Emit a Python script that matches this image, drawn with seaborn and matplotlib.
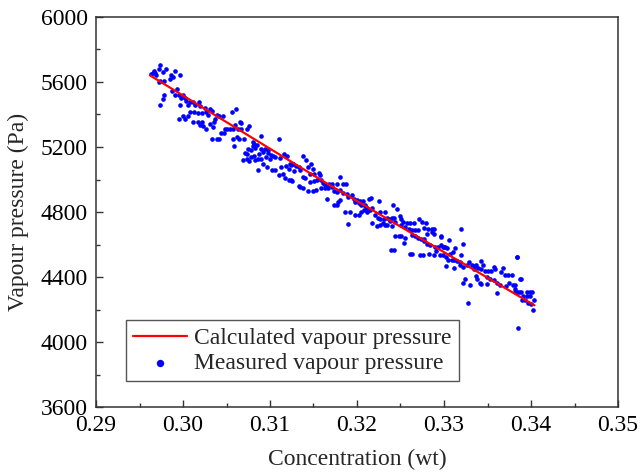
import matplotlib
matplotlib.use("Agg")
import matplotlib.pyplot as plt
from matplotlib.ticker import MultipleLocator
import seaborn as sns
import pandas as pd

# ---- data ----
calc_conc = [0.2962, 0.3161, 0.3404]
calc_pressure = [5641, 4990, 4226]

seg1 = [(0.2974, 5707), (0.2981, 5682), (0.2967, 5668), (0.2965, 5657), (0.2968, 5657),
        (0.2963, 5647), (0.2969, 5641), (0.2991, 5668), (0.2986, 5645), (0.2988, 5631),
        (0.2985, 5620), (0.2997, 5645), (0.2974, 5604), (0.2978, 5604), (0.2972, 5600),
        (0.2993, 5559), (0.2987, 5543), (0.2991, 5522), (0.2995, 5522), (0.2978, 5518),
        (0.2977, 5493), (0.2974, 5456), (0.3000, 5522), (0.3002, 5502), (0.3004, 5481),
        (0.3008, 5477), (0.3006, 5456), (0.2997, 5456), (0.3012, 5477), (0.3018, 5477),
        (0.3014, 5456), (0.3020, 5452), (0.3025, 5440), (0.3031, 5436), (0.3033, 5420),
        (0.3008, 5415), (0.3013, 5415), (0.3017, 5411), (0.3022, 5411), (0.3027, 5415),
        (0.3029, 5399), (0.3000, 5391), (0.3006, 5391), (0.2995, 5374), (0.3002, 5370),
        (0.3011, 5354), (0.3017, 5354), (0.3022, 5354), (0.3019, 5333), (0.3023, 5329),
        (0.3031, 5344), (0.3036, 5354), (0.3027, 5309), (0.3034, 5323), (0.3033, 5247),
        (0.3039, 5247), (0.2972, 5680), (0.2977, 5660), (0.2998, 5500)]

seg2 = [(0.3061, 5436), (0.3056, 5415), (0.3039, 5395), (0.3041, 5391), (0.3046, 5391),
        (0.3037, 5370), (0.3065, 5354), (0.3067, 5350), (0.3060, 5338), (0.3048, 5313),
        (0.3051, 5313), (0.3054, 5309), (0.3044, 5288), (0.3047, 5288), (0.3058, 5313),
        (0.3063, 5309), (0.3067, 5309), (0.3073, 5309), (0.3076, 5329), (0.3041, 5247),
        (0.3057, 5251), (0.3062, 5262), (0.3064, 5247), (0.3070, 5251), (0.3059, 5206),
        (0.3080, 5231), (0.3082, 5221), (0.3085, 5210), (0.3081, 5206), (0.3083, 5194),
        (0.3090, 5268), (0.3110, 5247), (0.3075, 5186), (0.3078, 5180), (0.3090, 5190),
        (0.3094, 5186), (0.3098, 5180), (0.3092, 5169), (0.3071, 5165), (0.3074, 5159),
        (0.3087, 5159), (0.3082, 5145), (0.3078, 5139), (0.3073, 5124), (0.3069, 5118),
        (0.3076, 5112), (0.3098, 5165), (0.3101, 5153), (0.3104, 5145), (0.3106, 5139),
        (0.3100, 5128), (0.3095, 5139), (0.3086, 5128), (0.3090, 5124), (0.3083, 5118),
        (0.3116, 5159), (0.3119, 5145), (0.3111, 5133), (0.3092, 5098), (0.3096, 5077),
        (0.3086, 5057), (0.3102, 5057), (0.3106, 5057), (0.3113, 5077), (0.3118, 5083),
        (0.3122, 5063), (0.3127, 5098), (0.3124, 5088), (0.3110, 5030), (0.3115, 5036),
        (0.3117, 5010), (0.3122, 4995), (0.3124, 4995)]

seg3 = [(0.3138, 5143), (0.3123, 5098), (0.3127, 5098), (0.3130, 5082), (0.3133, 5078),
        (0.3135, 5061), (0.3128, 5053), (0.3141, 5123), (0.3147, 5098), (0.3144, 5078),
        (0.3149, 5067), (0.3138, 5016), (0.3140, 5012), (0.3125, 4991), (0.3146, 5032),
        (0.3151, 5036), (0.3156, 5041), (0.3157, 5026), (0.3146, 4985), (0.3151, 4991),
        (0.3154, 4995), (0.3135, 4954), (0.3138, 4950), (0.3133, 4959), (0.3144, 4930),
        (0.3149, 4930), (0.3153, 4934), (0.3159, 4995), (0.3161, 4979), (0.3163, 4965),
        (0.3159, 4950), (0.3163, 4950), (0.3167, 4950), (0.3171, 4954), (0.3165, 4965),
        (0.3168, 4971), (0.3171, 4975), (0.3180, 5016), (0.3177, 4971), (0.3184, 4971),
        (0.3187, 4975), (0.3173, 4930), (0.3177, 4924), (0.3180, 4934), (0.3166, 4883),
        (0.3180, 4873), (0.3178, 4862), (0.3177, 4842), (0.3173, 4842), (0.3184, 4914),
        (0.3188, 4909), (0.3190, 4893), (0.3194, 4903), (0.3196, 4883), (0.3200, 4873),
        (0.3203, 4868), (0.3207, 4868), (0.3198, 4862), (0.3202, 4856), (0.3205, 4842),
        (0.3209, 4836), (0.3186, 4801), (0.3192, 4801), (0.3198, 4780), (0.3202, 4780),
        (0.3205, 4801), (0.3208, 4811), (0.3213, 4815), (0.3190, 4725), (0.3214, 4883)]

seg4 = [(0.3216, 4886), (0.3225, 4866), (0.3241, 4845), (0.3246, 4821), (0.3209, 4841),
        (0.3212, 4825), (0.3211, 4800), (0.3215, 4810), (0.3217, 4825), (0.3226, 4800),
        (0.3232, 4800), (0.3221, 4780), (0.3224, 4763), (0.3227, 4759), (0.3231, 4759),
        (0.3234, 4763), (0.3237, 4759), (0.3240, 4763), (0.3243, 4763), (0.3249, 4775),
        (0.3217, 4734), (0.3223, 4714), (0.3226, 4722), (0.3230, 4734), (0.3232, 4718),
        (0.3235, 4718), (0.3240, 4714), (0.3238, 4743), (0.3244, 4738), (0.3251, 4755),
        (0.3253, 4738), (0.3257, 4734), (0.3261, 4734), (0.3266, 4734), (0.3251, 4718),
        (0.3255, 4708), (0.3260, 4693), (0.3271, 4755), (0.3275, 4738), (0.3279, 4734),
        (0.3263, 4687), (0.3267, 4687), (0.3270, 4687), (0.3277, 4702), (0.3282, 4697),
        (0.3286, 4697), (0.3289, 4693), (0.3244, 4652), (0.3248, 4652), (0.3251, 4652),
        (0.3255, 4640), (0.3254, 4611), (0.3263, 4656), (0.3267, 4652), (0.3270, 4640),
        (0.3274, 4632), (0.3277, 4632), (0.3281, 4667), (0.3286, 4677), (0.3288, 4667),
        (0.3280, 4605), (0.3284, 4595), (0.3277, 4620), (0.3290, 4585), (0.3293, 4585),
        (0.3297, 4595), (0.3300, 4585), (0.3291, 4558), (0.3289, 4538), (0.3295, 4533),
        (0.3239, 4564), (0.3243, 4564), (0.3261, 4544), (0.3263, 4544), (0.3272, 4533),
        (0.3276, 4538), (0.3283, 4544), (0.3296, 4652)]

seg5 = [(0.3319, 4693), (0.3297, 4646), (0.3306, 4625), (0.3313, 4578), (0.3322, 4605),
        (0.3299, 4584), (0.3301, 4584), (0.3304, 4578), (0.3299, 4537), (0.3302, 4523),
        (0.3307, 4543), (0.3310, 4553), (0.3320, 4537), (0.3305, 4502), (0.3309, 4502),
        (0.3312, 4502), (0.3315, 4496), (0.3318, 4492), (0.3302, 4467), (0.3311, 4455),
        (0.3318, 4471), (0.3322, 4461), (0.3326, 4471), (0.3329, 4492), (0.3332, 4471),
        (0.3334, 4467), (0.3337, 4476), (0.3342, 4496), (0.3345, 4471), (0.3334, 4447),
        (0.3339, 4455), (0.3343, 4451), (0.3347, 4435), (0.3351, 4435), (0.3354, 4435),
        (0.3357, 4461), (0.3359, 4447), (0.3368, 4455), (0.3370, 4410), (0.3374, 4410),
        (0.3378, 4410), (0.3366, 4430), (0.3324, 4389), (0.3322, 4365), (0.3330, 4348),
        (0.3337, 4406), (0.3338, 4389), (0.3341, 4365), (0.3343, 4359), (0.3349, 4359),
        (0.3349, 4400), (0.3353, 4389), (0.3357, 4379), (0.3361, 4365), (0.3364, 4353),
        (0.3361, 4303), (0.3371, 4344), (0.3375, 4365), (0.3379, 4348), (0.3382, 4324),
        (0.3384, 4307), (0.3384, 4523), (0.3328, 4238)]

seg6 = [(0.3384, 4523), (0.3387, 4390), (0.3388, 4390), (0.3382, 4349), (0.3382, 4308),
        (0.3386, 4308), (0.3389, 4308), (0.3395, 4308), (0.3399, 4308), (0.3401, 4308),
        (0.3391, 4281), (0.3395, 4281), (0.3399, 4281), (0.3390, 4261), (0.3393, 4257),
        (0.3403, 4261), (0.3396, 4240), (0.3400, 4236), (0.3402, 4195), (0.3385, 4086)]

x_ticks = [0.29, 0.30, 0.31, 0.32, 0.33, 0.34, 0.35]
y_ticks = [3600, 4000, 4400, 4800, 5200, 5600, 6000]

# ---- build frames ----
measured = pd.DataFrame(seg1 + seg2 + seg3 + seg4 + seg5 + seg6,
                        columns=["conc", "pressure"])
calc = pd.DataFrame({"conc": calc_conc, "pressure": calc_pressure})

sns.set_style("ticks")
plt.rcParams["font.family"] = ["Liberation Serif", "DejaVu Serif"]

FS = 17
fig = plt.figure(figsize=(6.43, 4.73), dpi=100)
ax = fig.add_axes([96 / 643, 66 / 473, 522 / 643, 390 / 473])

sns.lineplot(data=calc, x="conc", y="pressure", ax=ax, color="red", lw=1.6,
             label="Calculated vapour pressure", zorder=3)
sns.scatterplot(data=measured, x="conc", y="pressure", ax=ax, color="blue",
                s=11, linewidth=0, label="Measured vapour pressure", zorder=2)

ax.set_xlim(0.29, 0.35)
ax.set_ylim(3600, 6000)
ax.set_xticks(x_ticks)
ax.set_xticklabels([f"{v:.2f}" for v in x_ticks])
ax.set_yticks(y_ticks)
ax.xaxis.set_minor_locator(MultipleLocator(0.005))
ax.yaxis.set_minor_locator(MultipleLocator(200))
ax.tick_params(which="major", direction="in", length=5, width=1, labelsize=FS,
               top=False, right=False, colors="#333333", labelcolor="black", pad=6)
ax.tick_params(which="minor", direction="in", length=3, width=1,
               top=False, right=False, colors="#333333")
for sp in ax.spines.values():
    sp.set_visible(True)
    sp.set_linewidth(1.1)
    sp.set_color("#333333")

ax.set_xlabel("Concentration (wt)", fontsize=FS, labelpad=9)
ax.set_ylabel("Vapour pressure (Pa)", fontsize=FS, labelpad=8)

leg = ax.legend(loc="lower left", bbox_to_anchor=(30 / 522, 26 / 390),
                borderaxespad=0, fontsize=FS, frameon=True, fancybox=False,
                edgecolor="#555555", framealpha=1, handlelength=2.3,
                handletextpad=0.3, borderpad=0.3, labelspacing=0.15,
                markerscale=1.6)
leg.get_frame().set_linewidth(1.0)

fig.savefig("out.png", dpi=100)
